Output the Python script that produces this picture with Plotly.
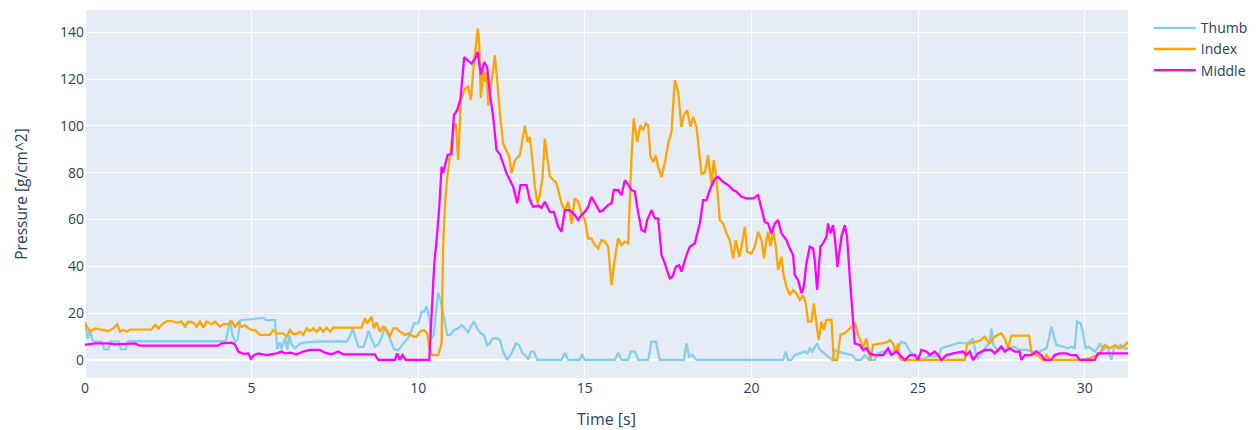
import plotly.graph_objects as go

# ---- Thumb ----
thumb_t = [0.0, 0.08, 0.15, 0.22, 0.3, 0.5, 0.58, 0.7, 0.76, 1.02, 1.08, 1.22, 1.3, 4.22, 4.3, 4.36, 4.42, 4.5,
           4.58, 4.66, 5.35, 5.45, 5.7, 5.77, 5.84, 5.9, 6.0, 6.07, 6.13, 6.2, 6.3, 6.45, 6.65, 6.85, 7.15, 7.35,
           7.55, 7.85, 7.95, 8.03, 8.1, 8.2, 8.35, 8.42, 8.5, 8.6, 8.7, 8.8, 8.9, 9.0, 9.1, 9.2, 9.28, 9.4, 9.55,
           9.7, 9.8, 9.87, 10.0, 10.1, 10.17, 10.25, 10.33, 10.4, 10.46, 10.53, 10.6, 10.67, 10.75, 10.8, 10.87,
           10.97, 11.07, 11.2, 11.3, 11.4, 11.5, 11.6, 11.67, 11.77, 11.87, 11.97, 12.07, 12.15, 12.23, 12.37,
           12.45, 12.55, 12.67, 12.8, 12.93, 13.03, 13.13, 13.25, 13.3, 13.38, 13.47, 13.57, 14.3, 14.4, 14.5,
           14.85, 14.92, 14.99, 15.9, 16.0, 16.1, 16.3, 16.38, 16.5, 16.6, 16.9, 17.0, 17.13, 17.25, 17.97, 18.05,
           18.13, 18.23, 18.35, 20.95, 21.03, 21.1, 21.2, 21.3, 21.45, 21.6, 21.67, 21.75, 21.82, 21.9, 21.97,
           22.05, 22.2, 22.3, 22.42, 22.5, 22.6, 22.8, 22.95, 23.03, 23.13, 23.3, 23.4, 23.52, 23.7, 23.8, 23.95,
           24.1, 24.3, 24.4, 24.5, 24.63, 24.7, 24.8, 24.95, 25.1, 25.3, 25.6, 25.7, 25.85, 26.05, 26.25, 26.45,
           26.55, 26.65, 26.73, 26.8, 26.9, 27.05, 27.15, 27.2, 27.26, 27.4, 27.55, 27.7, 27.85, 28.05, 28.25,
           28.45, 28.65, 28.85, 28.93, 29.0, 29.07, 29.15, 29.35, 29.5, 29.6, 29.7, 29.77, 29.88, 29.95, 30.03,
           30.12, 30.22, 30.3, 30.38, 30.47, 30.55, 30.68, 30.8, 30.9, 31.0, 31.1, 31.2, 31.3]
thumb_v = [16.5, 9, 13, 8.5, 7.8, 7.8, 4.5, 4.5, 7.8, 7.8, 4.5, 4.5, 8.0, 8.0, 13, 17, 11, 7.8,
           8.5, 17, 18, 17, 17, 4.5, 7.5, 4.5, 9.5, 4.5, 10.5, 6.5, 5, 7, 7.5, 7.8, 8.0, 7.8,
           8.0, 7.8, 10, 13.5, 10, 5.7, 5.5, 8, 12.5, 9, 5.7, 6.5, 9.5, 14.2, 11, 7.5, 4.5, 4.3, 7,
           9.5, 12.8, 15.6, 15.6, 20.6, 20.6, 22.8, 18.5, 9.2, 10.5, 21.3, 28.7, 25.6, 19.9, 14.9, 10.7,
           10.7, 12.8, 13.5, 14.9, 13.5, 11.8, 14.9, 16.4, 13.5, 11.4, 10.7, 6.4, 7.1, 9.2, 9.2,
           8.5, 3.6, 0, 2.8, 7.1, 6.4, 2.8, 1.4, 0, 3.6, 3.6, 0, 0, 3.1, 0,
           0, 2.5, 0, 0, 3.1, 0, 0, 3.6, 3.6, 0, 0, 7.8, 7.8, 0, 0, 7.1,
           1.4, 2.1, 0, 0, 3.6, 0, 0, 2.1, 2.8, 3.6, 2.8, 5, 3.6, 5.7, 7.1,
           4.5, 2.8, 1.5, 0, 4.3, 3.6, 2.8, 2.5, 2.1, 0, 0, 2.1, 0, 0, 2.8, 3.6,
           2.8, 4.3, 5, 7.8, 7.1, 5, 2.8, 2.1, 0, 1.5, 1.5, 5, 5.7, 6.4, 7.4, 7.1,
           7.8, 9.2, 2.8, 0.7, 2.8, 5.7, 7.8, 13.5, 6.4, 4.3, 5, 4.3, 5.7, 4.3, 4.3,
           3.6, 3.6, 5, 9.2, 14.2, 10, 6.4, 5.7, 5, 5.7, 5, 16.4, 15.6, 11.4, 5,
           5.7, 4.3, 3.6, 5, 7.1, 4.3, 5.7, 0, 6.4, 5.7, 6.4, 5, 5]

# ---- Index ----
index_t = [0.0, 0.05, 0.15, 0.3, 0.5, 0.7, 0.85, 0.97, 1.05, 1.15, 1.25, 1.35, 2.0, 2.05, 2.12, 2.2, 2.3, 2.45,
           2.6, 2.75, 2.9, 3.0, 3.1, 3.25, 3.35, 3.45, 3.55, 3.65, 3.8, 3.9, 4.05, 4.15, 4.3, 4.4, 4.5, 4.6, 4.7,
           4.8, 4.9, 5.0, 5.1, 5.25, 5.55, 5.65, 5.75, 5.95, 6.05, 6.15, 6.25, 6.35, 6.45, 6.55, 6.65, 6.75, 6.85,
           6.95, 7.05, 7.15, 7.25, 7.35, 7.45, 8.3, 8.4, 8.47, 8.6, 8.67, 8.75, 8.85, 8.95, 9.05, 9.15, 9.25, 9.35,
           9.45, 9.6, 9.7, 9.85, 9.95, 10.05, 10.17, 10.27, 10.33, 10.4, 10.6, 10.7, 10.75, 10.8, 10.87, 10.95,
           11.05, 11.13, 11.2, 11.28, 11.4, 11.5, 11.58, 11.67, 11.73, 11.79, 11.83, 11.88, 11.95, 12.0, 12.05,
           12.1, 12.17, 12.23, 12.3, 12.37, 12.45, 12.55, 12.65, 12.73, 12.8, 12.9, 13.05, 13.1, 13.2, 13.28,
           13.35, 13.43, 13.5, 13.58, 13.65, 13.73, 13.8, 13.87, 13.95, 14.05, 14.13, 14.2, 14.3, 14.4, 14.5,
           14.6, 14.7, 14.8, 14.9, 15.0, 15.1, 15.2, 15.3, 15.4, 15.5, 15.6, 15.7, 15.8, 15.9, 16.0, 16.1, 16.2,
           16.3, 16.4, 16.47, 16.57, 16.67, 16.75, 16.83, 16.9, 16.97, 17.05, 17.13, 17.2, 17.3, 17.4, 17.5,
           17.6, 17.7, 17.8, 17.9, 17.97, 18.07, 18.17, 18.25, 18.35, 18.5, 18.6, 18.7, 18.8, 18.87, 18.95,
           19.05, 19.15, 19.25, 19.35, 19.45, 19.53, 19.63, 19.7, 19.8, 19.87, 20.0, 20.1, 20.2, 20.3, 20.38,
           20.45, 20.5, 20.57, 20.65, 20.73, 20.8, 20.9, 20.97, 21.05, 21.15, 21.25, 21.35, 21.45, 21.55, 21.63,
           21.7, 21.8, 21.87, 21.95, 22.02, 22.1, 22.17, 22.25, 22.4, 22.47, 22.57, 22.67, 22.8, 22.9, 23.03,
           23.1, 23.2, 23.35, 23.45, 23.5, 23.57, 23.65, 23.85, 24.05, 24.15, 24.25, 24.33, 24.4, 24.45, 24.5,
           26.4, 26.47, 26.65, 26.85, 27.0, 27.15, 27.3, 27.5, 27.6, 27.7, 27.8, 28.33, 28.4, 28.6, 28.75, 28.85,
           28.95, 29.9, 30.15, 30.45, 30.6, 30.75, 30.9, 31.0, 31.15, 31.3]
index_v = [15.6, 14.2, 12.1, 13.5, 12.8, 12.4, 13.5, 15.3, 12.1, 12.8, 12.1, 13, 13.1, 14.2, 15, 13.5, 15, 16.6,
           16.6, 16, 16.4, 14.2, 16.4, 16, 14.2, 16.4, 13.8, 16.4, 15.3, 16.4, 14.2, 15.3, 15.3, 16.6, 14.2, 16, 14.2,
           14.9, 13.5, 12.8, 12.8, 10.7, 10.7, 12.8, 11.4, 11.4, 10, 12.8, 11.1, 11.1, 12.1, 10.7, 13.5, 12.4, 13.5,
           12.1, 13.8, 12.1, 13.8, 12.1, 13.8, 13.8, 17.8, 15.6, 18.5, 13.5, 16.1, 12.1, 14.2, 12.8, 10, 13.5, 13.5,
           12.1, 10.7, 11.4, 10, 10, 12.1, 12.8, 11.4, 5.7, 2.1, 2.1, 7.1, 49.8, 65.4, 78.2, 86.8,
           98.2, 101, 85.3, 111, 115.8, 116.8, 111, 126.6, 133.7, 141.6, 135, 111.9, 123.8, 118.8, 123,
           108.8, 115.2, 121.7, 130.1, 119.5, 105.2, 92.4, 89.6, 86.8, 79.7, 85.3, 87.5, 92.4, 100.2, 93.1,
           95.3, 85.3, 74, 66.9, 70.4, 78.2, 94.6, 86.8, 78.5, 76.8, 76.1, 72.6, 66.9, 64, 67.6,
           58.3, 69, 67.6, 62.6, 59.8, 51.9, 51.9, 49.1, 47.7, 51.2, 50.5, 48.4, 32, 43.4, 51.9, 49.1, 50.5,
           49.8, 86.8, 103.1, 93.1, 100.2, 98.2, 101, 100.2, 86.8, 84.6, 87.5, 82.5, 78.2, 84, 92.4,
           97.5, 119.5, 114.5, 99.6, 104.6, 106.7, 99.6, 103.9, 99.6, 79.5, 80, 87.5, 75, 85.3, 77.5,
           59.8, 58.3, 54.1, 51.2, 43.4, 51.2, 44.1, 48.4, 56.9, 46.2, 45.5, 48.4, 54.8, 51.2, 43.4,
           51.2, 54.8, 48.4, 55.5, 48.5, 38.4, 44.1, 35.6, 31.3, 27.7, 29.9, 28.5, 25.6, 27.7, 24.2,
           16.4, 16.4, 24.2, 15.6, 8.5, 16.4, 12.8, 17.1, 17.1, 0, 0, 10.7, 11.4, 12.8, 14.5,
           16, 10.7, 5.5, 9.2, 5, 0, 6.4, 7.1, 7.5, 8.5, 7.1, 3, 7, 0.7, 0,
           0, 6.7, 7.5, 8.2, 10, 7.1, 10, 11.4, 9.2, 5, 10.4, 10.4, 3.3, 1.8, 0, 2.1,
           0, 0, 0.7, 2.8, 6.4, 5, 6.1, 5, 5.5, 7.8]

# ---- Middle ----
middle_t = [0.0, 0.2, 0.3, 0.7, 0.9, 1.5, 1.65, 4.0, 4.1, 4.4, 4.5, 4.6, 4.75, 4.9, 4.98, 5.08, 5.2, 5.45, 5.75,
            5.9, 6.0, 6.15, 6.35, 6.55, 6.75, 7.05, 7.2, 7.4, 7.6, 7.75, 8.7, 8.8, 9.3, 9.37, 9.45, 9.53, 9.63,
            10.33, 10.48, 10.55, 10.63, 10.7, 10.75, 10.8, 10.88, 11.0, 11.07, 11.17, 11.27, 11.38, 11.5, 11.6,
            11.73, 11.78, 11.88, 11.98, 12.07, 12.15, 12.25, 12.35, 12.45, 12.55, 12.65, 12.85, 12.97, 13.07,
            13.25, 13.35, 13.45, 13.6, 13.7, 13.8, 13.95, 14.07, 14.2, 14.3, 14.4, 14.55, 14.7, 14.8, 14.9,
            15.0, 15.1, 15.2, 15.3, 15.45, 15.55, 15.7, 15.8, 15.87, 16.0, 16.1, 16.2, 16.3, 16.4, 16.5, 16.57,
            16.7, 16.8, 16.87, 17.0, 17.1, 17.2, 17.3, 17.4, 17.55, 17.63, 17.73, 17.83, 17.9, 18.05, 18.15,
            18.3, 18.45, 18.55, 18.65, 18.75, 18.9, 19.0, 19.15, 19.3, 19.45, 19.55, 19.7, 19.85, 20.05, 20.2,
            20.3, 20.4, 20.5, 20.6, 20.7, 20.8, 20.9, 21.05, 21.15, 21.25, 21.3, 21.4, 21.5, 21.57, 21.65, 21.75,
            21.85, 21.9, 21.97, 22.07, 22.15, 22.25, 22.3, 22.37, 22.45, 22.5, 22.58, 22.7, 22.8, 22.87, 22.95,
            23.03, 23.1, 23.25, 23.35, 23.45, 23.55, 23.7, 23.95, 24.1, 24.2, 24.35, 24.45, 24.6, 24.75, 24.9,
            25.0, 25.1, 25.25, 25.35, 25.5, 25.6, 25.7, 25.85, 26.05, 26.35, 26.45, 26.55, 26.65, 26.8, 27.0,
            27.2, 27.3, 27.5, 27.6, 27.75, 27.9, 28.05, 28.1, 28.2, 28.4, 28.55, 28.7, 28.8, 29.0, 29.1, 29.25,
            29.45, 29.6, 29.75, 29.85, 30.3, 30.4, 31.3]
middle_v = [6.4, 6.7, 7.1, 7.1, 6.7, 7.1, 6.1, 6.1, 7.1, 7.4, 6.7, 3.6, 2.6, 2.8, 0.5, 2.1, 2.8, 2.1, 2.8,
            3.6, 2.8, 3.1, 2.4, 3.6, 4.3, 4.3, 3.1, 2.4, 3.6, 2.4, 2.4, 0, 0, 2.8, 0, 2.1, 0,
            0, 41, 51, 65, 82.5, 80, 83, 87.5, 88, 104.6, 106.7, 111.7, 129.4, 128, 126.6,
            129.4, 131.6, 122, 127.3, 125, 113.8, 103.8, 89.6, 88, 84, 79.7, 74, 66.9, 74.7,
            74.7, 68.3, 65.4, 66, 65, 67.6, 63.3, 63.3, 56.9, 54.8, 64, 64, 61.9, 59.8, 61.9,
            63.3, 65.4, 69.7, 66.9, 63.3, 64, 66.2, 66.9, 72.6, 72.6, 70.4, 76.8, 75, 72.6, 72, 65.4,
            55.5, 54.8, 59.8, 64, 60.5, 60.5, 44.8, 41.3, 34.9, 35.6, 39.8, 40.5, 37.7, 44.8, 48.4,
            49.8, 58.3, 68.3, 68.3, 72.6, 77.5, 78.2, 76.1, 74.7, 72.6, 71.9, 69.7, 69, 69, 70.4,
            64, 59, 58.3, 54.1, 58.3, 59.8, 54.1, 51.2, 47.7, 44.8, 36.3, 34.1, 28.5, 31.3, 41.3, 48.4,
            47.7, 42.7, 29.9, 48.4, 49.8, 52.6, 58.3, 54.1, 57.6, 52.6, 39.8, 52.6, 57.6, 52.6, 35.6,
            21.3, 7.1, 6.4, 4.3, 5, 2.8, 2.1, 2.1, 5, 2.1, 3.6, 2.1, 0, 2.1, 2.1,
            0, 4.3, 3.6, 2.1, 3.6, 2.1, 0, 2.1, 2.8, 3.6, 2.1, 3.6, 0, 2.8, 4.3,
            4.3, 2.8, 5.7, 3.6, 5, 3.6, 3.6, 0, 2.1, 2.1, 3.6, 2.1, 0, 0, 2.1, 2.8,
            2.8, 2.1, 2.1, 0, 0, 2.8, 2.8]

series = [("Thumb", thumb_t, thumb_v, "skyblue"),
          ("Index", index_t, index_v, "orange"),
          ("Middle", middle_t, middle_v, "magenta")]

fig = go.Figure()
for name, t, v, color in series:
    fig.add_trace(go.Scatter(x=t, y=v, mode="lines", name=name,
                             line=dict(color=color, width=2.3)))

fig.update_layout(
    template="plotly",
    width=1252, height=422,
    margin=dict(l=77, r=132, t=2, b=52),
    font=dict(family="Open Sans, verdana, arial, sans-serif", size=14),
    xaxis=dict(title=dict(text="Time [s]", standoff=17, font=dict(size=16)), range=[0, 31.3],
               tickvals=[0, 5, 10, 15, 20, 25, 30], tickfont=dict(size=14)),
    yaxis=dict(title=dict(text="Pressure [g/cm^2]", standoff=28, font=dict(size=15.5)), range=[-7.7, 149.5],
               tickvals=[0, 20, 40, 60, 80, 100, 120, 140], tickfont=dict(size=14)),
    legend=dict(x=1.02, y=0.994, xanchor="left", yanchor="top", font=dict(size=14), itemwidth=42),
)

fig.write_html("out.html")
